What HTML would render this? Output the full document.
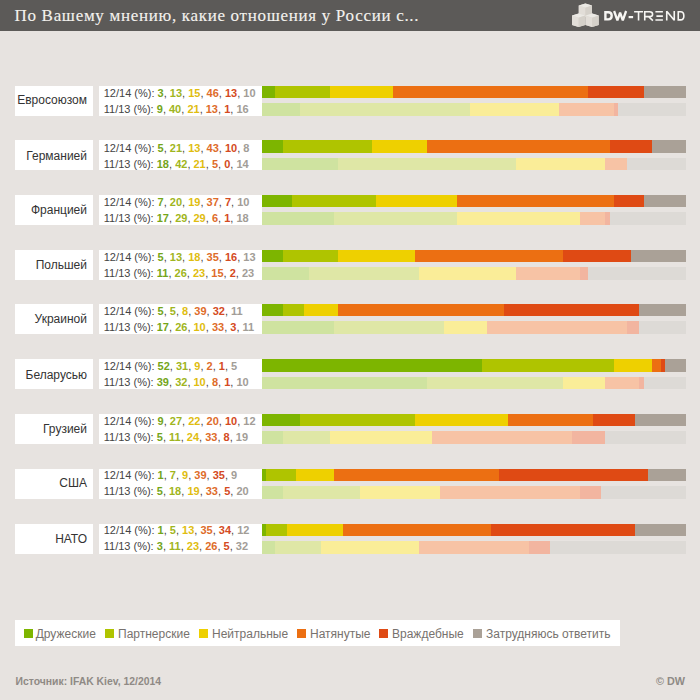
<!DOCTYPE html>
<html><head><meta charset="utf-8"><style>
html,body{margin:0;padding:0;}
body{width:700px;height:700px;overflow:hidden;background:#e7e3e0;position:relative;font-family:"Liberation Sans",sans-serif;}
#hdr{position:absolute;left:0;top:0;width:700px;height:30.5px;background:#5c5a58;}
#title{position:absolute;left:14.5px;top:5px;font-family:"Liberation Serif",serif;font-size:17px;letter-spacing:0.69px;-webkit-text-stroke:0.12px #f4f2ee;color:#f4f2ee;white-space:nowrap;line-height:22px;}
#logo{position:absolute;left:570px;top:2px;}
#dwt{position:absolute;left:603.5px;top:6px;color:#f6f5f2;font-size:13px;line-height:18px;white-space:nowrap;}
.lab{position:absolute;left:15px;width:72px;padding-right:6px;height:30px;background:#fff;text-align:right;font-size:12px;line-height:28px;color:#333;white-space:nowrap;}
.st{position:absolute;left:99px;width:158px;padding-left:5px;height:30px;background:#fff;font-size:11px;color:#444;white-space:nowrap;}
.labt{position:absolute;left:15px;width:72px;height:28px;line-height:28px;text-align:right;font-size:12px;color:#333;white-space:nowrap;}
.sl{position:absolute;left:103.75px;line-height:16px;font-size:11px;color:#444;white-space:nowrap;}
.bar{position:absolute;left:0;top:0;height:12.5px;width:700px;}
.bar i{position:absolute;top:0;height:100%;}
#leg{position:absolute;left:15px;top:620px;width:605px;height:26px;background:#fff;}
.sq{position:absolute;top:629px;width:8.7px;height:8.7px;}
.lt{position:absolute;top:626px;font-size:12px;line-height:17px;color:#77726e;white-space:nowrap;}
#src{position:absolute;left:15.5px;top:675px;font-size:10.4px;font-weight:bold;color:#8f8a85;line-height:14px;white-space:nowrap;}
#cdw{position:absolute;left:656px;top:674px;font-size:10.8px;font-weight:bold;color:#8f8a85;line-height:14px;white-space:nowrap;}
</style></head><body>
<div id="hdr"></div>
<div id="title">По Вашему мнению, какие отношения у России с...</div>
<svg id="logo" width="32" height="28" viewBox="570 2 32 28" style="position:absolute;left:570px;top:2px">
<polygon points="578.75,5.4 585.375,3.4 592.0,5.4 592.0,14.899999999999999 585.375,16.9 578.75,14.899999999999999" fill="#dcd8d1"/>
<polygon points="578.75,5.4 585.375,3.4 592.0,5.4 585.375,7.699999999999999" fill="#ebe9e4"/>
<polygon points="578.75,5.4 585.375,7.699999999999999 585.375,16.9 578.75,14.899999999999999" fill="#e2ded8"/>
<polygon points="585.375,7.699999999999999 592.0,5.4 592.0,14.899999999999999 585.375,16.9" fill="#d5d1ca"/>
<polygon points="572,15.5 578.625,13.5 585.25,15.5 585.25,25.0 578.625,27.0 572,25.0" fill="#dcd8d1"/>
<polygon points="572,15.5 578.625,13.5 585.25,15.5 578.625,17.8" fill="#ebe9e4"/>
<polygon points="572,15.5 578.625,17.8 578.625,27.0 572,25.0" fill="#e2ded8"/>
<polygon points="578.625,17.8 585.25,15.5 585.25,25.0 578.625,27.0" fill="#d5d1ca"/>
<polygon points="585.5,15.5 592.125,13.5 598.75,15.5 598.75,25.0 592.125,27.0 585.5,25.0" fill="#dcd8d1"/>
<polygon points="585.5,15.5 592.125,13.5 598.75,15.5 592.125,17.8" fill="#ebe9e4"/>
<polygon points="585.5,15.5 592.125,17.8 592.125,27.0 585.5,25.0" fill="#e2ded8"/>
<polygon points="592.125,17.8 598.75,15.5 598.75,25.0 592.125,27.0" fill="#d5d1ca"/>
</svg>
<svg width="700" height="31" style="position:absolute;left:0;top:0" fill="none" stroke="#f7f6f3">
 <path d="M605.4,12.2 L608.3,12.2 C611.2,12.2 611.7,14.3 611.7,15.8 C611.7,17.4 611.2,19.4 608.3,19.4 L605.4,19.4 Z" stroke-width="2.4"/>
 <path d="M614.1,11 L617.4,20.3 L620.1,12.6 L622.8,20.3 L626.1,11" stroke-width="2.3" stroke-linejoin="miter" stroke-miterlimit="2"/>
 <path d="M628.6,17.1 L633.1,17.1" stroke-width="2.2"/>
 <path d="M634.1,11.75 L643,11.75 M638.55,11.75 L638.55,20.6" stroke-width="1.6"/>
 <path d="M644.75,20.6 L644.75,11.75 L649.5,11.75 C652.2,11.75 652.6,13 652.6,14.2 C652.6,15.5 652.2,16.6 649.5,16.6 L644.75,16.6 M648.6,16.6 L652.9,20.6" stroke-width="1.6"/>
 <path d="M655.4,11.75 L662.9,11.75 M656.4,16.1 L662.9,16.1 M655.4,20.0 L662.9,20.0" stroke-width="1.6"/>
 <path d="M666.75,20.6 L666.75,11 M666.75,11.3 L674.25,20.3 M674.25,20.6 L674.25,11" stroke-width="1.6" stroke-linejoin="bevel"/>
 <path d="M678.25,11.75 L680.6,11.75 C683.6,11.75 683.85,14.2 683.85,15.9 C683.85,17.6 683.6,19.85 680.6,19.85 L678.25,19.85 Z" stroke-width="1.6"/>
</svg>
<div class="lab" style="top:85.85px"></div><div class="labt" style="top:86px">Евросоюзом</div>
<div class="st" style="top:85.85px"></div><div class="sl" style="top:85px">12/14 (%): <b style="color:#74a519">3</b>, <b style="color:#9fb521">13</b>, <b style="color:#e0bd10">15</b>, <b style="color:#de6c2a">46</b>, <b style="color:#d44a22">13</b>, <b style="color:#a29d97">10</b></div><div class="sl" style="top:101px">11/13 (%): <b style="color:#74a519">9</b>, <b style="color:#9fb521">40</b>, <b style="color:#e0bd10">21</b>, <b style="color:#de6c2a">13</b>, <b style="color:#d44a22">1</b>, <b style="color:#a29d97">16</b></div>
<div class="bar" style="top:85.85px;height:12.3px"><i style="left:262.00px;width:12.72px;background:#7db500"></i><i style="left:274.72px;width:55.12px;background:#afc400"></i><i style="left:329.84px;width:63.60px;background:#eed000"></i><i style="left:393.44px;width:195.04px;background:#ec6f12"></i><i style="left:588.48px;width:55.12px;background:#df4a14"></i><i style="left:643.60px;width:42.40px;background:#aaa197"></i></div>
<div class="bar" style="top:103.35px;height:12.5px"><i style="left:262.00px;width:38.16px;background:#cfe3a0"></i><i style="left:300.16px;width:169.60px;background:#dfe7a6"></i><i style="left:469.76px;width:89.04px;background:#faed98"></i><i style="left:558.80px;width:55.12px;background:#f7c3a5"></i><i style="left:613.92px;width:4.24px;background:#f2b5a0"></i><i style="left:618.16px;width:67.84px;background:#dddad6"></i></div>
<div class="lab" style="top:140.45px"></div><div class="labt" style="top:142px">Германией</div>
<div class="st" style="top:140.45px"></div><div class="sl" style="top:140px">12/14 (%): <b style="color:#74a519">5</b>, <b style="color:#9fb521">21</b>, <b style="color:#e0bd10">13</b>, <b style="color:#de6c2a">43</b>, <b style="color:#d44a22">10</b>, <b style="color:#a29d97">8</b></div><div class="sl" style="top:156px">11/13 (%): <b style="color:#74a519">18</b>, <b style="color:#9fb521">42</b>, <b style="color:#e0bd10">21</b>, <b style="color:#de6c2a">5</b>, <b style="color:#d44a22">0</b>, <b style="color:#a29d97">14</b></div>
<div class="bar" style="top:140.45px;height:12.3px"><i style="left:262.00px;width:21.20px;background:#7db500"></i><i style="left:283.20px;width:89.04px;background:#afc400"></i><i style="left:372.24px;width:55.12px;background:#eed000"></i><i style="left:427.36px;width:182.32px;background:#ec6f12"></i><i style="left:609.68px;width:42.40px;background:#df4a14"></i><i style="left:652.08px;width:33.92px;background:#aaa197"></i></div>
<div class="bar" style="top:157.95px;height:12.5px"><i style="left:262.00px;width:76.32px;background:#cfe3a0"></i><i style="left:338.32px;width:178.08px;background:#dfe7a6"></i><i style="left:516.40px;width:89.04px;background:#faed98"></i><i style="left:605.44px;width:21.20px;background:#f7c3a5"></i><i style="left:626.64px;width:59.36px;background:#dddad6"></i></div>
<div class="lab" style="top:194.90px"></div><div class="labt" style="top:196px">Францией</div>
<div class="st" style="top:194.90px"></div><div class="sl" style="top:194px">12/14 (%): <b style="color:#74a519">7</b>, <b style="color:#9fb521">20</b>, <b style="color:#e0bd10">19</b>, <b style="color:#de6c2a">37</b>, <b style="color:#d44a22">7</b>, <b style="color:#a29d97">10</b></div><div class="sl" style="top:210px">11/13 (%): <b style="color:#74a519">17</b>, <b style="color:#9fb521">29</b>, <b style="color:#e0bd10">29</b>, <b style="color:#de6c2a">6</b>, <b style="color:#d44a22">1</b>, <b style="color:#a29d97">18</b></div>
<div class="bar" style="top:194.90px;height:12.3px"><i style="left:262.00px;width:29.68px;background:#7db500"></i><i style="left:291.68px;width:84.80px;background:#afc400"></i><i style="left:376.48px;width:80.56px;background:#eed000"></i><i style="left:457.04px;width:156.88px;background:#ec6f12"></i><i style="left:613.92px;width:29.68px;background:#df4a14"></i><i style="left:643.60px;width:42.40px;background:#aaa197"></i></div>
<div class="bar" style="top:212.40px;height:12.5px"><i style="left:262.00px;width:72.08px;background:#cfe3a0"></i><i style="left:334.08px;width:122.96px;background:#dfe7a6"></i><i style="left:457.04px;width:122.96px;background:#faed98"></i><i style="left:580.00px;width:25.44px;background:#f7c3a5"></i><i style="left:605.44px;width:4.24px;background:#f2b5a0"></i><i style="left:609.68px;width:76.32px;background:#dddad6"></i></div>
<div class="lab" style="top:249.75px"></div><div class="labt" style="top:251px">Польшей</div>
<div class="st" style="top:249.75px"></div><div class="sl" style="top:249px">12/14 (%): <b style="color:#74a519">5</b>, <b style="color:#9fb521">13</b>, <b style="color:#e0bd10">18</b>, <b style="color:#de6c2a">35</b>, <b style="color:#d44a22">16</b>, <b style="color:#a29d97">13</b></div><div class="sl" style="top:265px">11/13 (%): <b style="color:#74a519">11</b>, <b style="color:#9fb521">26</b>, <b style="color:#e0bd10">23</b>, <b style="color:#de6c2a">15</b>, <b style="color:#d44a22">2</b>, <b style="color:#a29d97">23</b></div>
<div class="bar" style="top:249.75px;height:12.3px"><i style="left:262.00px;width:21.20px;background:#7db500"></i><i style="left:283.20px;width:55.12px;background:#afc400"></i><i style="left:338.32px;width:76.32px;background:#eed000"></i><i style="left:414.64px;width:148.40px;background:#ec6f12"></i><i style="left:563.04px;width:67.84px;background:#df4a14"></i><i style="left:630.88px;width:55.12px;background:#aaa197"></i></div>
<div class="bar" style="top:267.25px;height:12.5px"><i style="left:262.00px;width:46.64px;background:#cfe3a0"></i><i style="left:308.64px;width:110.24px;background:#dfe7a6"></i><i style="left:418.88px;width:97.52px;background:#faed98"></i><i style="left:516.40px;width:63.60px;background:#f7c3a5"></i><i style="left:580.00px;width:8.48px;background:#f2b5a0"></i><i style="left:588.48px;width:97.52px;background:#dddad6"></i></div>
<div class="lab" style="top:303.95px"></div><div class="labt" style="top:305px">Украиной</div>
<div class="st" style="top:303.95px"></div><div class="sl" style="top:303px">12/14 (%): <b style="color:#74a519">5</b>, <b style="color:#9fb521">5</b>, <b style="color:#e0bd10">8</b>, <b style="color:#de6c2a">39</b>, <b style="color:#d44a22">32</b>, <b style="color:#a29d97">11</b></div><div class="sl" style="top:319px">11/13 (%): <b style="color:#74a519">17</b>, <b style="color:#9fb521">26</b>, <b style="color:#e0bd10">10</b>, <b style="color:#de6c2a">33</b>, <b style="color:#d44a22">3</b>, <b style="color:#a29d97">11</b></div>
<div class="bar" style="top:303.95px;height:12.3px"><i style="left:262.00px;width:21.20px;background:#7db500"></i><i style="left:283.20px;width:21.20px;background:#afc400"></i><i style="left:304.40px;width:33.92px;background:#eed000"></i><i style="left:338.32px;width:165.36px;background:#ec6f12"></i><i style="left:503.68px;width:135.68px;background:#df4a14"></i><i style="left:639.36px;width:46.64px;background:#aaa197"></i></div>
<div class="bar" style="top:321.45px;height:12.5px"><i style="left:262.00px;width:72.08px;background:#cfe3a0"></i><i style="left:334.08px;width:110.24px;background:#dfe7a6"></i><i style="left:444.32px;width:42.40px;background:#faed98"></i><i style="left:486.72px;width:139.92px;background:#f7c3a5"></i><i style="left:626.64px;width:12.72px;background:#f2b5a0"></i><i style="left:639.36px;width:46.64px;background:#dddad6"></i></div>
<div class="lab" style="top:359.45px"></div><div class="labt" style="top:361px">Беларусью</div>
<div class="st" style="top:359.45px"></div><div class="sl" style="top:358px">12/14 (%): <b style="color:#74a519">52</b>, <b style="color:#9fb521">31</b>, <b style="color:#e0bd10">9</b>, <b style="color:#de6c2a">2</b>, <b style="color:#d44a22">1</b>, <b style="color:#a29d97">5</b></div><div class="sl" style="top:374px">11/13 (%): <b style="color:#74a519">39</b>, <b style="color:#9fb521">32</b>, <b style="color:#e0bd10">10</b>, <b style="color:#de6c2a">8</b>, <b style="color:#d44a22">1</b>, <b style="color:#a29d97">10</b></div>
<div class="bar" style="top:359.45px;height:12.3px"><i style="left:262.00px;width:220.48px;background:#7db500"></i><i style="left:482.48px;width:131.44px;background:#afc400"></i><i style="left:613.92px;width:38.16px;background:#eed000"></i><i style="left:652.08px;width:8.48px;background:#ec6f12"></i><i style="left:660.56px;width:4.24px;background:#df4a14"></i><i style="left:664.80px;width:21.20px;background:#aaa197"></i></div>
<div class="bar" style="top:376.95px;height:12.5px"><i style="left:262.00px;width:165.36px;background:#cfe3a0"></i><i style="left:427.36px;width:135.68px;background:#dfe7a6"></i><i style="left:563.04px;width:42.40px;background:#faed98"></i><i style="left:605.44px;width:33.92px;background:#f7c3a5"></i><i style="left:639.36px;width:4.24px;background:#f2b5a0"></i><i style="left:643.60px;width:42.40px;background:#dddad6"></i></div>
<div class="lab" style="top:413.65px"></div><div class="labt" style="top:415px">Грузией</div>
<div class="st" style="top:413.65px"></div><div class="sl" style="top:413px">12/14 (%): <b style="color:#74a519">9</b>, <b style="color:#9fb521">27</b>, <b style="color:#e0bd10">22</b>, <b style="color:#de6c2a">20</b>, <b style="color:#d44a22">10</b>, <b style="color:#a29d97">12</b></div><div class="sl" style="top:429px">11/13 (%): <b style="color:#74a519">5</b>, <b style="color:#9fb521">11</b>, <b style="color:#e0bd10">24</b>, <b style="color:#de6c2a">33</b>, <b style="color:#d44a22">8</b>, <b style="color:#a29d97">19</b></div>
<div class="bar" style="top:413.65px;height:12.3px"><i style="left:262.00px;width:38.16px;background:#7db500"></i><i style="left:300.16px;width:114.48px;background:#afc400"></i><i style="left:414.64px;width:93.28px;background:#eed000"></i><i style="left:507.92px;width:84.80px;background:#ec6f12"></i><i style="left:592.72px;width:42.40px;background:#df4a14"></i><i style="left:635.12px;width:50.88px;background:#aaa197"></i></div>
<div class="bar" style="top:431.15px;height:12.5px"><i style="left:262.00px;width:21.20px;background:#cfe3a0"></i><i style="left:283.20px;width:46.64px;background:#dfe7a6"></i><i style="left:329.84px;width:101.76px;background:#faed98"></i><i style="left:431.60px;width:139.92px;background:#f7c3a5"></i><i style="left:571.52px;width:33.92px;background:#f2b5a0"></i><i style="left:605.44px;width:80.56px;background:#dddad6"></i></div>
<div class="lab" style="top:468.50px"></div><div class="labt" style="top:469px">США</div>
<div class="st" style="top:468.50px"></div><div class="sl" style="top:467px">12/14 (%): <b style="color:#74a519">1</b>, <b style="color:#9fb521">7</b>, <b style="color:#e0bd10">9</b>, <b style="color:#de6c2a">39</b>, <b style="color:#d44a22">35</b>, <b style="color:#a29d97">9</b></div><div class="sl" style="top:483px">11/13 (%): <b style="color:#74a519">5</b>, <b style="color:#9fb521">18</b>, <b style="color:#e0bd10">19</b>, <b style="color:#de6c2a">33</b>, <b style="color:#d44a22">5</b>, <b style="color:#a29d97">20</b></div>
<div class="bar" style="top:468.50px;height:12.3px"><i style="left:262.00px;width:4.24px;background:#7db500"></i><i style="left:266.24px;width:29.68px;background:#afc400"></i><i style="left:295.92px;width:38.16px;background:#eed000"></i><i style="left:334.08px;width:165.36px;background:#ec6f12"></i><i style="left:499.44px;width:148.40px;background:#df4a14"></i><i style="left:647.84px;width:38.16px;background:#aaa197"></i></div>
<div class="bar" style="top:486.00px;height:12.5px"><i style="left:262.00px;width:21.20px;background:#cfe3a0"></i><i style="left:283.20px;width:76.32px;background:#dfe7a6"></i><i style="left:359.52px;width:80.56px;background:#faed98"></i><i style="left:440.08px;width:139.92px;background:#f7c3a5"></i><i style="left:580.00px;width:21.20px;background:#f2b5a0"></i><i style="left:601.20px;width:84.80px;background:#dddad6"></i></div>
<div class="lab" style="top:523.80px"></div><div class="labt" style="top:525px">НАТО</div>
<div class="st" style="top:523.80px"></div><div class="sl" style="top:522px">12/14 (%): <b style="color:#74a519">1</b>, <b style="color:#9fb521">5</b>, <b style="color:#e0bd10">13</b>, <b style="color:#de6c2a">35</b>, <b style="color:#d44a22">34</b>, <b style="color:#a29d97">12</b></div><div class="sl" style="top:538px">11/13 (%): <b style="color:#74a519">3</b>, <b style="color:#9fb521">11</b>, <b style="color:#e0bd10">23</b>, <b style="color:#de6c2a">26</b>, <b style="color:#d44a22">5</b>, <b style="color:#a29d97">32</b></div>
<div class="bar" style="top:523.80px;height:12.3px"><i style="left:262.00px;width:4.24px;background:#7db500"></i><i style="left:266.24px;width:21.20px;background:#afc400"></i><i style="left:287.44px;width:55.12px;background:#eed000"></i><i style="left:342.56px;width:148.40px;background:#ec6f12"></i><i style="left:490.96px;width:144.16px;background:#df4a14"></i><i style="left:635.12px;width:50.88px;background:#aaa197"></i></div>
<div class="bar" style="top:541.30px;height:12.5px"><i style="left:262.00px;width:12.72px;background:#cfe3a0"></i><i style="left:274.72px;width:46.64px;background:#dfe7a6"></i><i style="left:321.36px;width:97.52px;background:#faed98"></i><i style="left:418.88px;width:110.24px;background:#f7c3a5"></i><i style="left:529.12px;width:21.20px;background:#f2b5a0"></i><i style="left:550.32px;width:135.68px;background:#dddad6"></i></div>
<div id="leg"></div>
<div class="sq" style="left:24px;background:#7db500"></div><div class="lt" style="left:35.7px">Дружеские</div>
<div class="sq" style="left:105px;background:#afc400"></div><div class="lt" style="left:118px">Партнерские</div>
<div class="sq" style="left:199.3px;background:#eed000"></div><div class="lt" style="left:212px">Нейтральные</div>
<div class="sq" style="left:297.1px;background:#ec6f12"></div><div class="lt" style="left:310px">Натянутые</div>
<div class="sq" style="left:379.1px;background:#df4a14"></div><div class="lt" style="left:392px">Враждебные</div>
<div class="sq" style="left:473px;background:#aaa197"></div><div class="lt" style="left:486px">Затрудняюсь ответить</div>
<div id="src">Источник: IFAK Kiev, 12/2014</div>
<div id="cdw">© DW</div>
</body></html>
